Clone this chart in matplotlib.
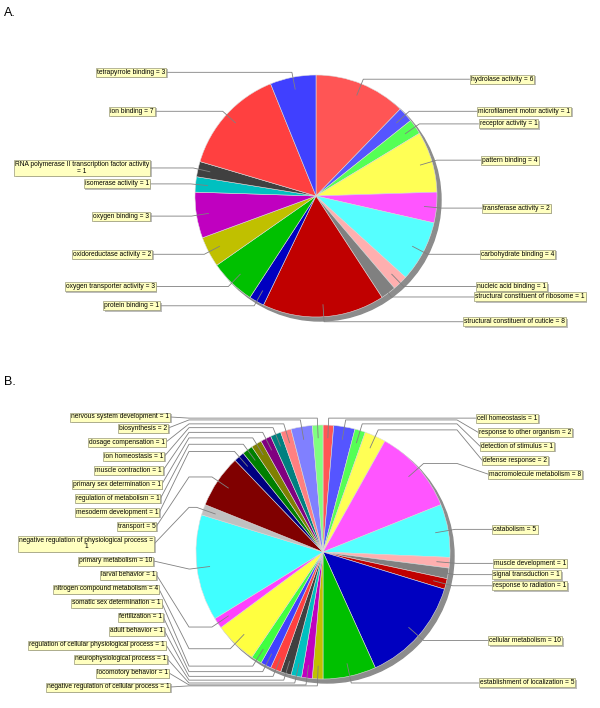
import numpy as np
import matplotlib.pyplot as plt
import matplotlib.patheffects as pe
from matplotlib.patches import Circle
from matplotlib.font_manager import FontProperties
from matplotlib.textpath import TextToPath

W, H = 600, 708

# default series paints of the charting tool that drew the original
palette = ['#FF5555', '#5555FF', '#55FF55', '#FFFF55', '#FF55FF', '#55FFFF',
           '#FFAFAF', '#808080', '#C00000', '#0000C0', '#00C000', '#C0C000',
           '#C000C0', '#00C0C0', '#404040', '#FF4040', '#4040FF', '#40FF40',
           '#FFFF40', '#FF40FF', '#40FFFF', '#C0C0C0', '#800000', '#000080',
           '#008000', '#808000', '#800080', '#008080', '#FF8080', '#8080FF',
           '#80FF80']

# A. molecular function terms, clockwise from 12 o'clock
terms_a = ['hydrolase activity', 'microfilament motor activity', 'receptor activity',
           'pattern binding', 'transferase activity', 'carbohydrate binding',
           'nucleic acid binding', 'structural constituent of ribosome',
           'structural constituent of cuticle', 'protein binding',
           'oxygen transporter activity', 'oxidoreductase activity', 'oxygen binding',
           'isomerase activity', 'RNA polymerase II transcription factor activity',
           'ion binding', 'tetrapyrrole binding']
counts_a = [6, 1, 1, 4, 2, 4, 1, 1, 8, 1, 3, 2, 3, 1, 1, 7, 3]

# B. biological process terms, clockwise from 12 o'clock
terms_b = ['cell homeostasis', 'response to other organism', 'detection of stimulus',
           'defense response', 'macromolecule metabolism', 'catabolism',
           'muscle development', 'signal transduction', 'response to radiation',
           'cellular metabolism', 'establishment of localization',
           'negative regulation of cellular process', 'locomotory behavior',
           'neurophysiological process', 'regulation of cellular physiological process',
           'adult behavior', 'fertilization', 'somatic sex determination',
           'nitrogen compound metabolism', 'larval behavior', 'primary metabolism',
           'negative regulation of physiological process', 'transport',
           'mesoderm development', 'regulation of metabolism',
           'primary sex determination', 'muscle contraction', 'ion homeostasis',
           'dosage compensation', 'biosynthesis', 'nervous system development']
counts_b = [1, 2, 1, 2, 8, 5, 1, 1, 1, 10, 5, 1, 1, 1, 1, 1, 1, 1, 4, 1, 10,
            1, 5, 1, 1, 1, 1, 1, 1, 2, 1]

plt.rcParams['font.family'] = ['Liberation Sans', 'DejaVu Sans']
fig = plt.figure(figsize=(W / 100, H / 100), dpi=100)
ax = fig.add_axes([0, 0, 1, 1])

FS = 4.8
_t2p = TextToPath()
_prop = FontProperties(family='Liberation Sans', size=100)


def em_width(s):
    return _t2p.get_text_width_height_descent(s, _prop, ismath=False)[0] / 100


def wrap(s, max_em=20.7):
    lines, cur = [], ''
    for w in s.split(' '):
        trial = w if not cur else cur + ' ' + w
        if cur and em_width(trial) > max_em:
            lines.append(cur)
            cur = w
        else:
            cur = trial
    lines.append(cur)
    return '\n'.join(lines)


def overlap(recs):
    return any(b['y'] - b['h'] / 2 < a['y'] + a['h'] / 2 for a, b in zip(recs, recs[1:]))


def distribute(recs, min_y, height, min_gap=4.0):
    recs.sort(key=lambda r: r['base'])
    for r in recs:
        r['y'] = r['base']
    if overlap(recs):
        for a, b in zip(recs, recs[1:]):
            if b['y'] - b['h'] / 2 < a['y'] + a['h'] / 2:
                b['y'] = min(min_y + height - b['h'] / 2,
                             a['y'] + a['h'] / 2 + min_gap + b['h'] / 2)
    if overlap(recs):
        for i in range(len(recs) - 1, 0, -1):
            a, b = recs[i], recs[i - 1]
            if b['y'] + b['h'] / 2 > a['y'] - a['h'] / 2:
                b['y'] = max(min_y + b['h'] / 2,
                             a['y'] - a['h'] / 2 - min_gap - b['h'] / 2)
    if overlap(recs):
        gap = (height - sum(r['h'] for r in recs)) / max(len(recs) - 1, 1)
        y = min_y
        for r in recs:
            y += r['h'] / 2
            r['y'] = y
            y += r['h'] / 2 + gap


def draw_pie(terms, counts, cx, cy, r, r_link, gap, min_y, height):
    ax.add_patch(Circle((cx + 4, H - cy - 4), r, color='#8c8c8c', zorder=1))
    ax.pie(counts, colors=palette[:len(counts)], startangle=90, counterclock=False,
           center=(cx, H - cy), radius=r, frame=True,
           wedgeprops=dict(edgecolor='#dddddd', linewidth=0.4, zorder=2))
    counts = np.asarray(counts, dtype=float)
    mid = np.cumsum(counts) - counts / 2
    theta = np.radians(90 - 360 * mid / counts.sum())
    left, right = [], []
    for name, n, t in zip(terms, counts, theta):
        text = wrap(f'{name} = {int(n)}')
        rec = dict(text=text, t=t, h=10 + 7 * text.count('\n'),
                   base=cy - np.sin(t) * r_link)
        (left if np.cos(t) < 0 else right).append(rec)
    for recs, side in ((left, -1), (right, 1)):
        distribute(recs, min_y, height)
        anchor_x = cx + side * r_link
        for rec in recs:
            t = rec['t']
            tx = anchor_x + side * gap / 2 * (1 + side * np.cos(t))
            ty = rec['y']
            ex, ey = cx + np.cos(t) * r_link, cy - np.sin(t) * r_link
            lx, ly = cx + np.cos(t) * r * 0.9, cy - np.sin(t) * r * 0.9
            xs = [lx, ex, anchor_x, tx]
            ys = [ly, ey, ey, ty]
            ax.plot(xs, [H - v for v in ys], color='#808080', lw=0.6, zorder=3)
            lab = ax.text(tx + side * 1.2, H - ty, rec['text'],
                          ha='right' if side < 0 else 'left', va='center',
                          multialignment='center', linespacing=1.0, fontsize=FS,
                          color='black', zorder=5,
                          bbox=dict(boxstyle='square,pad=0.15', fc='#FFFFC0',
                                    ec='#9a9a7a', lw=0.5))
            lab.get_bbox_patch().set_path_effects([
                pe.SimplePatchShadow(offset=(1.1, -1.1), shadow_rgbFace='#909090',
                                     alpha=0.6),
                pe.Normal()])


draw_pie(terms_a, counts_a, 316, 196, 121, 126, 40, 65, 262)
draw_pie(terms_b, counts_b, 323, 552, 127, 134, 35.5, 412, 280)

ax.text(4, H - 13, 'A.', fontsize=9, va='center')
ax.text(4, H - 382, 'B.', fontsize=9, va='center')

ax.set_xlim(0, W)
ax.set_ylim(0, H)
ax.axis('off')
fig.savefig('out.png', dpi=100)
